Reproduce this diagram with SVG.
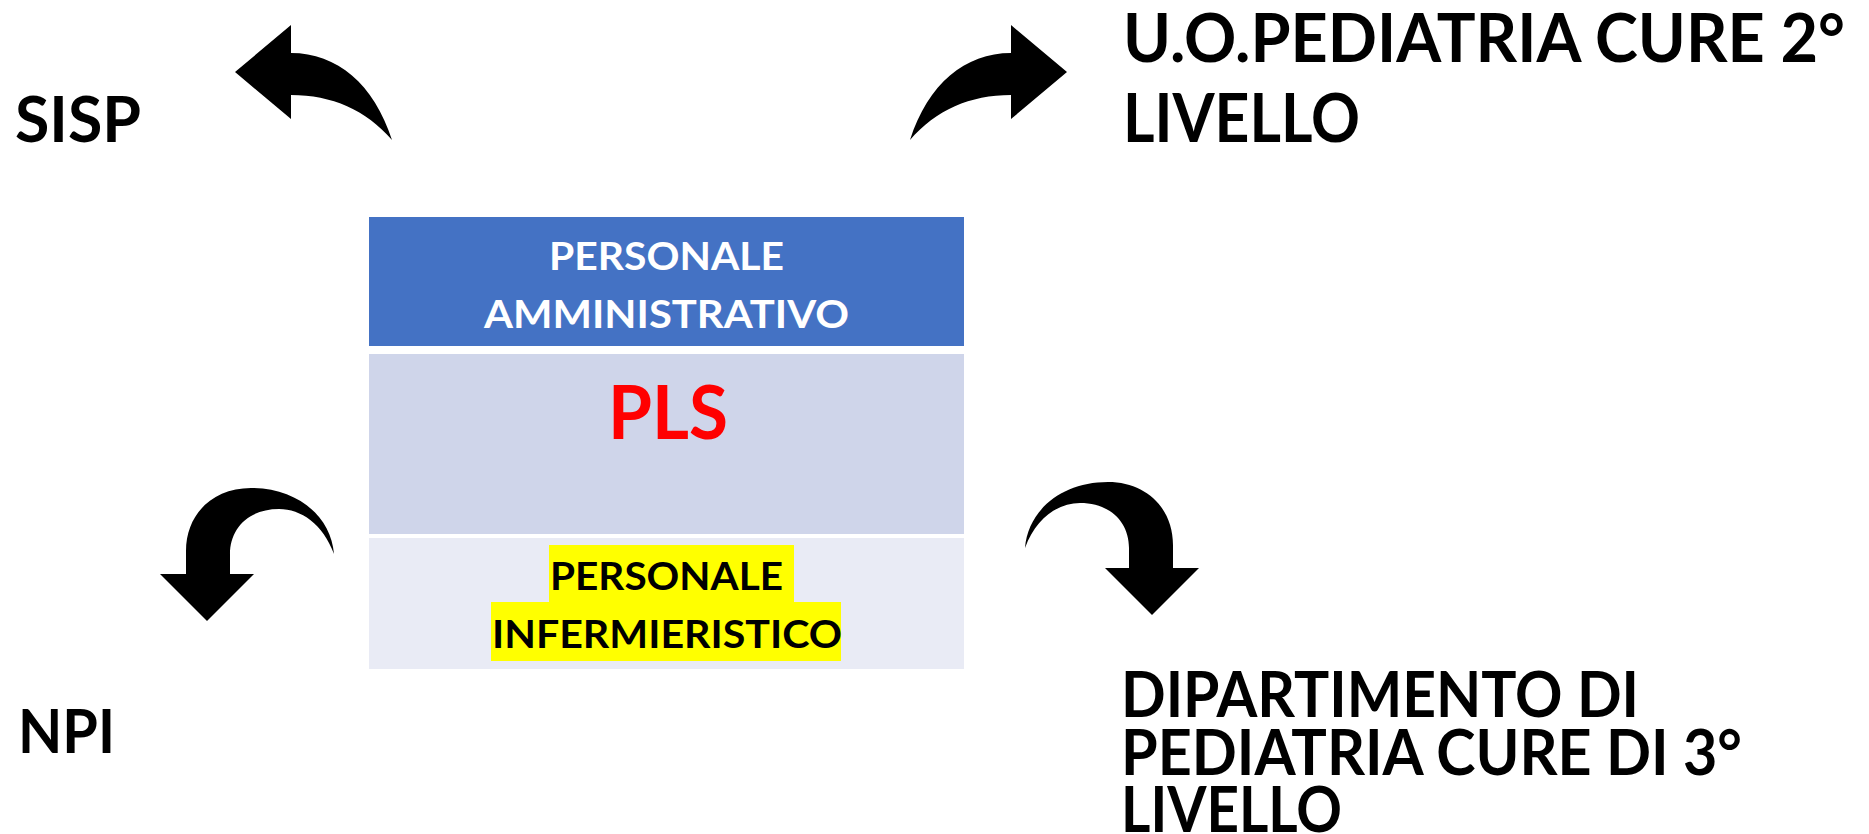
<svg xmlns="http://www.w3.org/2000/svg" width="1869" height="834" viewBox="0 0 1869 834">
<style>
  text { font-family: Lato, "Open Sans", "Liberation Sans", sans-serif; font-weight: 700; }
  .lbl { fill: #000000; }
  .hdr { fill: #FFFFFF; font-size: 39px; }
  .inf { fill: #000000; font-size: 38px; }
  .pls { fill: #FF0000; font-size: 74px; }
  .arrow { fill: #000000; stroke: none; }
  .hl { fill: #FFFF00; }
</style>
<rect x="0" y="0" width="1869" height="834" fill="#FFFFFF"/>

<g id="connectors">
  <path id="arrow-sisp" class="arrow" d="M235,72 L291,25 L291,53 C337,53 374,84 392,140 C366,110 332,95 291,95 L291,119 Z"/>
  <path id="arrow-uo" class="arrow" transform="translate(1302,0) scale(-1,1)" d="M235,72 L291,25 L291,53 C337,53 374,84 392,140 C366,110 332,95 291,95 L291,119 Z"/>
  <path id="arrow-dip" class="arrow" d="M1025,548 C1028,510 1062,482 1108,482 C1146,482 1173,508 1173,545 L1173,568 L1199,568 L1152,615 L1105,568 L1129,568 L1129,548 C1129,522 1110,503 1080,503 C1058,503 1036,518 1025,548 Z"/>
  <path id="arrow-npi" class="arrow" transform="translate(1359,6) scale(-1,1)" d="M1025,548 C1028,510 1062,482 1108,482 C1146,482 1173,508 1173,545 L1173,568 L1199,568 L1152,615 L1105,568 L1129,568 L1129,548 C1129,522 1110,503 1080,503 C1058,503 1036,518 1025,548 Z"/>
</g>

<g id="sisp">
  <text class="lbl" x="15" y="142" font-size="63" textLength="126" lengthAdjust="spacingAndGlyphs">SISP</text>
</g>

<g id="npi">
  <text class="lbl" x="18" y="753" font-size="62" textLength="97" lengthAdjust="spacingAndGlyphs">NPI</text>
</g>

<g id="uo-pediatria">
  <text class="lbl" x="1123" y="62" font-size="66" textLength="722" lengthAdjust="spacingAndGlyphs">U.O.PEDIATRIA CURE 2°</text>
  <text class="lbl" x="1123" y="142" font-size="66" textLength="237" lengthAdjust="spacingAndGlyphs">LIVELLO</text>
</g>

<g id="dipartimento">
  <text class="lbl" x="1121" y="717" font-size="63.5" textLength="518" lengthAdjust="spacingAndGlyphs">DIPARTIMENTO DI</text>
  <text class="lbl" x="1121" y="775" font-size="63.5" textLength="621" lengthAdjust="spacingAndGlyphs">PEDIATRIA CURE DI 3°</text>
  <text class="lbl" x="1121" y="832" font-size="63.5" textLength="221" lengthAdjust="spacingAndGlyphs">LIVELLO</text>
</g>

<g id="pls-table">
  <g id="row-amministrativo">
    <rect x="369" y="217" width="595" height="129" fill="#4472C4"/>
    <text class="hdr" x="549" y="270" textLength="235" lengthAdjust="spacingAndGlyphs">PERSONALE</text>
    <text class="hdr" x="484" y="328" textLength="365" lengthAdjust="spacingAndGlyphs">AMMINISTRATIVO</text>
  </g>
  <g id="row-pls">
    <rect x="369" y="354" width="595" height="180" fill="#CFD5EA"/>
    <text class="pls" x="608" y="439" textLength="120" lengthAdjust="spacingAndGlyphs">PLS</text>
  </g>
  <g id="row-infermieristico">
    <rect x="369" y="538" width="595" height="131" fill="#E9EBF5"/>
    <rect class="hl" x="549" y="545" width="245" height="57"/>
    <rect class="hl" x="491" y="602" width="350" height="59"/>
    <text class="inf" x="550" y="590" textLength="233" lengthAdjust="spacingAndGlyphs">PERSONALE</text>
    <text class="inf" x="492" y="648" textLength="350" lengthAdjust="spacingAndGlyphs">INFERMIERISTICO</text>
  </g>
</g>
</svg>
